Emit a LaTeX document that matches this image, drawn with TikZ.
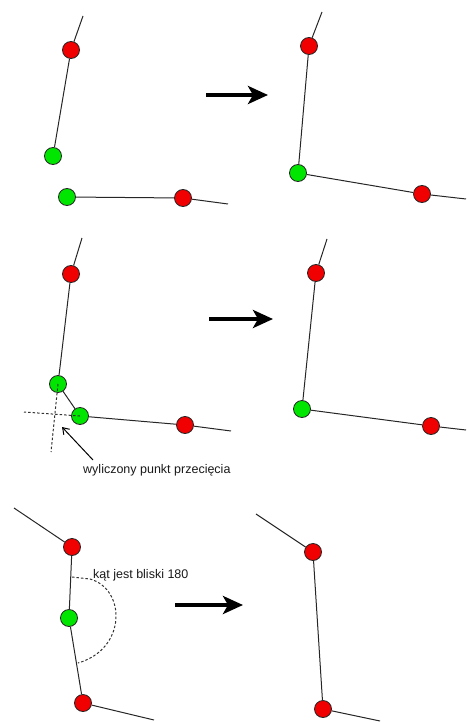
\documentclass[tikz,border=0pt]{standalone}
\usepackage{fontspec}
\setmainfont{Liberation Sans}
\usetikzlibrary{arrows.meta}
\definecolor{dotred}{RGB}{240,0,0}
\definecolor{dotgreen}{RGB}{0,230,0}
\begin{document}
\begin{tikzpicture}[x=1pt,y=-1pt,
  reddot/.style={circle,draw=black!85,line width=0.8pt,fill=dotred,minimum size=17pt,inner sep=0pt},
  greendot/.style={circle,draw=black!85,line width=0.8pt,fill=dotgreen,minimum size=17pt,inner sep=0pt},
  seg/.style={line width=1pt,black!85},
  bigarrow/.style={line width=4pt,-{Stealth[length=20pt,width=18pt,inset=5pt]}},
  guide/.style={dash pattern=on 2.5pt off 2pt,line width=1pt,black!80},
  lbl/.style={font=\fontsize{12.5}{14}\selectfont,anchor=west,inner sep=0pt,text=black!90}]
\useasboundingbox (0,0) rectangle (466,722);
% ---------- panel 1 left
\node[reddot] (a1) at (71,50) {};
\node[greendot] (a2) at (53,156) {};
\node[greendot] (a3) at (67,197) {};
\node[reddot] (a4) at (183,198) {};
\coordinate (a0) at (83,16);
\coordinate (a5) at (228,204);
\draw[seg] (a0) -- (a1) -- (a2);
\draw[seg] (a3) -- (a4) -- (a5);
% arrow 1
\coordinate (r1s) at (206,95);
\coordinate (r1e) at (268,95);
\draw[bigarrow] (r1s) -- (r1e);
% ---------- panel 1 right
\node[reddot] (b1) at (309,46) {};
\node[greendot] (b2) at (298,173) {};
\node[reddot] (b3) at (422,194) {};
\coordinate (b0) at (322,12);
\coordinate (b4) at (466,199);
\draw[seg] (b0) -- (b1) -- (b2) -- (b3) -- (b4);
% ---------- panel 2 left
\node[reddot] (c1) at (71,274) {};
\node[greendot] (c2) at (58,384) {};
\node[greendot] (c3) at (80,416) {};
\node[reddot] (c4) at (185,425) {};
\coordinate (c0) at (82,238);
\coordinate (c5) at (231,431);
\coordinate (cv) at (51,452);
\coordinate (ch) at (24,412);
\draw[seg] (c0) -- (c1) -- (c2) -- (c3) -- (c4) -- (c5);
\draw[guide] (c2.center) -- (cv);
\draw[guide] (c3.center) -- (ch);
\node[lbl] (t1) at (83,470) {wyliczony punkt przecięcia};
\coordinate (p1) at (93,460);
\coordinate (p2) at (62,427);
\draw[line width=1pt,-{Straight Barb[length=6pt,width=8pt]}] (p1) -- (p2);
% arrow 2
\coordinate (r2s) at (209,319);
\coordinate (r2e) at (273,319);
\draw[bigarrow] (r2s) -- (r2e);
% ---------- panel 2 right
\node[reddot] (d1) at (316,273) {};
\node[greendot] (d2) at (302,409) {};
\node[reddot] (d3) at (431,426) {};
\coordinate (d0) at (327,239);
\coordinate (d4) at (466,430);
\draw[seg] (d0) -- (d1) -- (d2) -- (d3) -- (d4);
% ---------- panel 3 left
\node[reddot] (e1) at (72,547) {};
\node[greendot] (e2) at (69,618) {};
\node[reddot] (e3) at (83,703) {};
\coordinate (e0) at (14,508);
\coordinate (e4) at (154,720);
\draw[seg] (e0) -- (e1) -- (e2) -- (e3) -- (e4);
\coordinate (g1) at (72,577);
\coordinate (g2) at (90,579);
\coordinate (g3) at (78,663);
\draw[guide] (g1) -- (g2) .. controls (126,589) and (127,649) .. (g3);
\node[lbl] (t2) at (93,575) {kąt jest bliski 180};
% arrow 3
\coordinate (r3s) at (175,605);
\coordinate (r3e) at (243,605);
\draw[bigarrow] (r3s) -- (r3e);
% ---------- panel 3 right
\node[reddot] (f1) at (313,552) {};
\node[reddot] (f2) at (323,709) {};
\coordinate (f0) at (256,514);
\coordinate (f3) at (380,721);
\draw[seg] (f0) -- (f1) -- (f2) -- (f3);
\end{tikzpicture}
\end{document}
